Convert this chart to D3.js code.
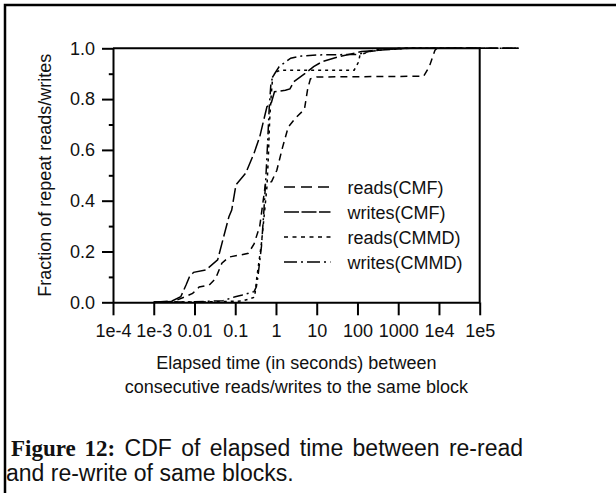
<!DOCTYPE html>
<html>
<head>
<meta charset="utf-8">
<script src="https://cdn.jsdelivr.net/npm/d3@7"></script>
<style>
  body { margin: 0; background: #fff; }
  text { font-family: "Liberation Sans", Arial, Helvetica, sans-serif; fill: #111; }
</style>
</head>
<body>
<div id="chart"></div>
<script>
// CDF points: [elapsed seconds, fraction]
const readsCMF = [[0.001,0],[0.003,0.003],[0.0055,0.02],[0.009,0.035],[0.013,0.06],[0.023,0.068],[0.033,0.094],[0.047,0.154],[0.07,0.178],[0.13,0.186],[0.21,0.193],[0.29,0.23],[0.4,0.3],[0.55,0.465],[0.78,0.475],[1.05,0.52],[1.45,0.61],[2.0,0.69],[3.0,0.725],[5.0,0.76],[6.0,0.84],[7.0,0.88],[10,0.887],[4200,0.89],[5800,0.928],[8000,0.993],[9000,1],[9e5,1]];
const writesCMF = [[0.001,0],[0.0029,0.006],[0.0046,0.022],[0.0062,0.068],[0.0075,0.10],[0.0095,0.118],[0.019,0.127],[0.037,0.167],[0.07,0.337],[0.082,0.363],[0.104,0.462],[0.18,0.508],[0.29,0.587],[0.4,0.652],[0.6,0.77],[0.76,0.783],[0.92,0.829],[1.7,0.835],[2.2,0.84],[2.75,0.869],[5.2,0.901],[8.4,0.928],[13.5,0.947],[35,0.967],[126,0.987],[390,0.993],[1600,1],[9e5,1]];
const readsCMMD = [[0.001,0],[0.03,0.002],[0.15,0.005],[0.3,0.02],[0.34,0.1],[0.44,0.232],[0.51,0.337],[0.6,0.455],[0.65,0.573],[0.7,0.718],[0.76,0.809],[0.83,0.888],[1.05,0.908],[1.3,0.914],[83,0.914],[107,0.947],[115,0.974],[250,0.993],[1000,1],[9e5,1]];
const writesCMMD = [[0.001,0],[0.01,0.002],[0.05,0.006],[0.1,0.022],[0.15,0.029],[0.29,0.042],[0.33,0.061],[0.36,0.10],[0.44,0.22],[0.5,0.35],[0.56,0.48],[0.62,0.62],[0.68,0.76],[0.75,0.86],[0.83,0.888],[1.2,0.928],[2.3,0.961],[4.3,0.97],[12,0.974],[100,0.976],[190,0.987],[500,0.996],[2000,1],[9e5,1]];

const xTicks = [1e-4, 1e-3, 1e-2, 1e-1, 1, 10, 100, 1000, 1e4, 1e5];
const xTickLabels = ["1e-4", "1e-3", "0.01", "0.1", "1", "10", "100", "1000", "1e4", "1e5"];
const yTicks = [0, 0.2, 0.4, 0.6, 0.8, 1.0];
const yMinorTicks = [0.1, 0.3, 0.5, 0.7, 0.9];

const series = [
    { name: "reads(CMF)", values: readsCMF, dash: "7,5", legendDash: "11,6" },
    { name: "writes(CMF)", values: writesCMF, dash: "14,4", legendDash: "15,2.5" },
    { name: "reads(CMMD)", values: readsCMMD, dash: "3,4", legendDash: "4,4.5" },
    { name: "writes(CMMD)", values: writesCMMD, dash: "10,4,2,4", legendDash: "13,4,2,4" }
];

const width = 616, height = 493;

const svg = d3.select("#chart")
    .append("svg")
    .attr("width", width)
    .attr("height", height);

svg.append("rect").attr("width", width).attr("height", height).attr("fill", "#fff");

// page crop edge (top and left)
svg.append("path")
    .attr("d", `M5,${height} V5 H${width}`)
    .attr("fill", "none").attr("stroke", "#000").attr("stroke-width", 2.5);

const plot = { left: 113, right: 479.7, top: 48.3, bottom: 302.3 };

const x = d3.scaleLog().domain([1e-4, 1e5]).range([plot.left, plot.right]);
const y = d3.scaleLinear().domain([0, 1]).range([plot.bottom, plot.top]);

// frame: top and right sides
svg.append("path")
    .attr("d", `M${plot.left},${plot.top} H${plot.right} V${plot.bottom}`)
    .attr("fill", "none").attr("stroke", "#000").attr("stroke-width", 2);

const xAxis = svg.append("g")
    .attr("transform", `translate(0,${plot.bottom})`)
    .call(d3.axisBottom(x).tickValues(xTicks).tickFormat((d, i) => xTickLabels[i]).tickSize(13).tickSizeOuter(0).tickPadding(9));

const yAxis = svg.append("g")
    .attr("transform", `translate(${plot.left},0)`)
    .call(d3.axisLeft(y).tickValues(yTicks).tickFormat(d3.format(".1f")).tickSize(11).tickSizeOuter(0).tickPadding(7));

svg.append("g")
    .attr("transform", `translate(${plot.left},0)`)
    .call(d3.axisLeft(y).tickValues(yMinorTicks).tickFormat("").tickSize(4.2).tickSizeOuter(0))
    .select(".domain").remove();

svg.selectAll(".tick line, .domain").attr("stroke", "#000").attr("stroke-width", 2);
xAxis.selectAll("text").attr("font-size", 18).attr("fill", "#111");
yAxis.selectAll("text").attr("font-size", 18).attr("fill", "#111");

const line = d3.line()
    .x(d => x(d[0]))
    .y(d => y(d[1]));

svg.append("g")
    .selectAll("path")
    .data(series)
    .join("path")
    .attr("d", d => line(d.values))
    .attr("fill", "none")
    .attr("stroke", "#000")
    .attr("stroke-width", 1.5)
    .attr("stroke-dasharray", d => d.dash);

// legend
const legend = svg.append("g").attr("transform", "translate(284,194)");
const rows = legend.selectAll("g")
    .data(series)
    .join("g")
    .attr("transform", (d, i) => `translate(0,${i * 25})`);

rows.append("line")
    .attr("x1", 0).attr("x2", 46.5)
    .attr("y1", -7).attr("y2", -7)
    .attr("stroke", "#000")
    .attr("stroke-width", 1.5)
    .attr("stroke-dasharray", d => d.legendDash);

rows.append("text")
    .attr("x", 63.5)
    .attr("font-size", 18)
    .text(d => d.name);

// axis titles
svg.append("text")
    .attr("transform", `translate(51,${(plot.top + plot.bottom) / 2}) rotate(-90)`)
    .attr("text-anchor", "middle")
    .attr("font-size", 18)
    .text("Fraction of repeat reads/writes");

const xTitle = svg.append("text")
    .attr("text-anchor", "middle")
    .attr("font-size", 18);
xTitle.append("tspan").attr("x", (plot.left + plot.right) / 2).attr("y", 369).text("Elapsed time (in seconds) between");
xTitle.append("tspan").attr("x", (plot.left + plot.right) / 2).attr("y", 393).text("consecutive reads/writes to the same block");

// caption (first line is justified in the paper, hence the wider word spacing)
svg.append("text")
    .attr("x", 11).attr("y", 456)
    .attr("font-size", 23)
    .attr("word-spacing", 3)
    .call(t => t.append("tspan")
        .attr("font-family", "'Liberation Serif', 'Times New Roman', serif")
        .attr("font-weight", "bold")
        .text("Figure 12:"))
    .call(t => t.append("tspan").text(" CDF of elapsed time between re-read"));

svg.append("text")
    .attr("x", 6).attr("y", 481)
    .attr("font-size", 23)
    .text("and re-write of same blocks.");
</script>
</body>
</html>
